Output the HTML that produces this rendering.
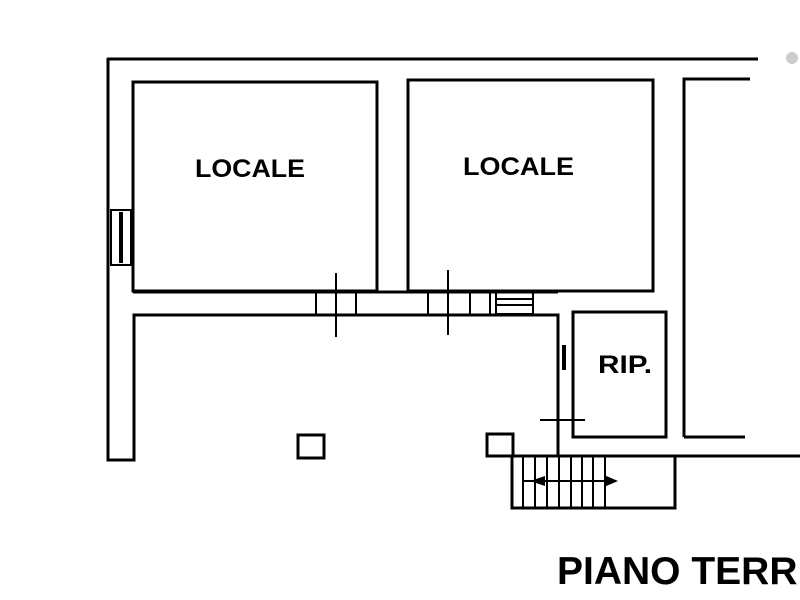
<!DOCTYPE html>
<html><head><style>body{margin:0;background:#fff}svg{display:block}</style></head><body>
<svg width="800" height="600" viewBox="0 0 800 600" xmlns="http://www.w3.org/2000/svg">
<g fill="none" stroke="#000" stroke-width="3">
<path d="M107 59 H758"/>
<path d="M108 58 V460 H134 V315 H558 V456"/>
<rect x="133" y="82" width="244" height="209"/>
<rect x="408" y="80" width="245" height="211"/>
<path d="M133 292 H558"/>
<path d="M684 437 V79 H750"/>
<path d="M684 437 H745"/>
<rect x="573" y="312" width="93" height="125"/>
<path d="M558 456 H800"/>
<rect x="512" y="456" width="163" height="52"/>
<rect x="298" y="435" width="26" height="23"/>
<rect x="487" y="434" width="26" height="22"/>
</g>
<g fill="none" stroke="#000" stroke-width="2">
<rect x="111" y="210" width="20" height="55"/>
<path d="M121 212 V263" stroke-width="4"/>
<path d="M316 292 V314 M356 292 V314 M428 292 V314 M470 292 V314 M490 292 V314"/>
<rect x="496" y="291" width="37" height="23"/>
<path d="M497 299 H532 M497 305 H532"/>
<path d="M336 273 V337 M448 270 V335"/>
<path d="M540 420 H585"/>
<path d="M564 345 V370" stroke-width="4"/>
<path d="M523 456 V508 M535 456 V508 M547 456 V508 M559 456 V508 M571 456 V508 M582 456 V508 M593 456 V508 M605 456 V508"/>
<path d="M522 481 H615"/>
</g>
<path d="M530 481 L545 476 L545 486 Z M618 481 L604 475 L604 487 Z" fill="#000"/>
<g font-family="Liberation Sans, sans-serif" font-weight="bold" fill="#000">
<text x="195" y="177" font-size="25" textLength="110" lengthAdjust="spacingAndGlyphs">LOCALE</text>
<text x="463" y="175" font-size="25" textLength="111" lengthAdjust="spacingAndGlyphs">LOCALE</text>
<text x="598" y="373" font-size="25" textLength="54" lengthAdjust="spacingAndGlyphs">RIP.</text>
<text x="557" y="584" font-size="39">PIANO TERRENO</text>
</g>
<circle cx="792" cy="58" r="6" fill="#ccc"/>
</svg>
</body></html>
